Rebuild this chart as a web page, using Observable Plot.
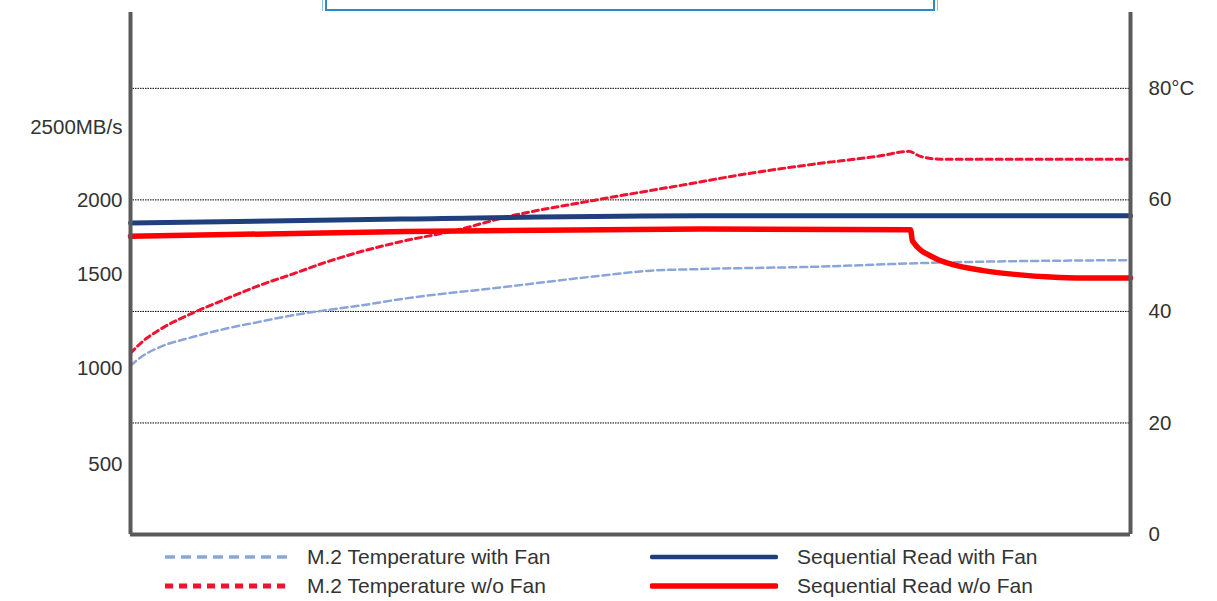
<!DOCTYPE html>
<html>
<head>
<meta charset="utf-8">
<script src="https://cdn.jsdelivr.net/npm/d3@7"></script>
<script src="https://cdn.jsdelivr.net/npm/@observablehq/plot@0.6"></script>
<style>
  html, body { margin: 0; padding: 0; background: #fff; }
  #wrap { position: relative; width: 1217px; height: 601px; overflow: hidden; font-family: "Liberation Sans", Arial, sans-serif; color: #333; }
  #topbox { position: absolute; left: 322px; top: -10px; width: 616px; height: 21px; border-left: 1px solid #8cc0ea; border-right: 1px solid #8cc0ea; box-sizing: border-box; }
  #topbox div { position: absolute; left: 2px; right: 2px; top: 0; bottom: 0; border: 2px solid #2f88cc; border-top: none; }
  .leg { position: absolute; display: flex; align-items: center; font-size: 21px; white-space: nowrap; }
  .leg svg { display: block; }
</style>
</head>
<body>
<div id="wrap">
  <div id="chart"></div>
  <div id="topbox"><div></div></div>
  <div id="legend"></div>
</div>
<script>
// ---- data (x: elapsed test time, 0..100; temperatures in °C; read speeds in MB/s) ----
const tempTicks = [0, 20, 40, 60, 80];
const tempLabels = ["0", "20", "40", "60", "80°C"];
const mbTicks = [500, 1000, 1500, 2000, 2500];
const mbLabels = ["500", "1000", "1500", "2000", "2500MB/s"];
const mbTickAtTemp = [12.5, 29.8, 46.6, 59.9, 73.0];

const tempFanT   = [0, 1.2, 2.8, 6.2, 9.5, 12.8, 16.2, 19.5, 22.8, 27, 37, 47, 52, 57, 68.3, 79.7, 100];
const tempFanV   = [30.3, 32.0, 33.5, 35.4, 36.9, 38.1, 39.3, 40.2, 41.0, 42.2, 44.3, 46.4, 47.3, 47.6, 48.0, 48.7, 49.2];

const tempNoFanT = [0, 1.2, 2.8, 6.2, 9.5, 12.8, 16.2, 19.5, 22.8, 27, 32.7, 37.3, 46.3, 55, 61.7, 68.3, 75, 77.8, 79, 81, 100];
const tempNoFanV = [32.5, 34.6, 36.6, 39.7, 42.2, 44.6, 46.7, 48.8, 50.6, 52.5, 54.6, 56.8, 59.9, 62.6, 64.7, 66.4, 67.9, 68.7, 67.8, 67.3, 67.3];

const readFanT   = [0, 27, 57, 100];
const readFanV   = [1848, 1875, 1897, 1897];

const readNoFanT = [0, 27.5, 57, 78.0, 78.2, 80.3, 82, 85.3, 88.7, 92, 95.3, 100];
const readNoFanV = [1758, 1791, 1808, 1803, 1727, 1616, 1572, 1527, 1500, 1487, 1482, 1482];

const seriesNames = ["M.2 Temperature with Fan", "M.2 Temperature w/o Fan", "Sequential Read with Fan", "Sequential Read w/o Fan"];

// ---- mapping MB/s onto the shared vertical scale ----
const mbToTemp = d3.scaleLinear().domain(mbTicks).range(mbTickAtTemp);

const rows = (ts, vs, conv = v => v) => ts.map((t, i) => ({t, v: conv(vs[i])}));
const tempFan = rows(tempFanT, tempFanV);
const tempNoFan = rows(tempNoFanT, tempNoFanV);
const readFan = rows(readFanT, readFanV, mbToTemp);
const readNoFan = rows(readNoFanT, readNoFanV, mbToTemp);

const C = {
  lightBlue: "#8aa6d9",
  redDot: "#f0122e",
  navy: "#1f3f7d",
  red: "#ff0000",
  axis: "#5a5a5a"
};

const chart = Plot.plot({
  width: 1217,
  height: 545,
  marginLeft: 130,
  marginRight: 87,
  marginTop: 12,
  marginBottom: 11,
  x: {domain: [0, 100], axis: null},
  y: {domain: [0, 93.6], axis: null},
  style: {fontFamily: '"Liberation Sans", Arial, sans-serif', fontSize: "20.5px", color: "#333", background: "transparent", overflow: "visible"},
  marks: [
    Plot.ruleY(tempTicks.filter(d => d > 0), {stroke: "#000", strokeWidth: 1, strokeDasharray: "1.5,1"}),
    Plot.line(tempFan, {x: "t", y: "v", stroke: C.lightBlue, strokeWidth: 2.5, strokeDasharray: "7,4", curve: "monotone-x"}),
    Plot.line(tempNoFan, {x: "t", y: "v", stroke: C.redDot, strokeWidth: 3, strokeDasharray: "6,4", curve: "monotone-x"}),
    Plot.line(readFan, {x: "t", y: "v", stroke: C.navy, strokeWidth: 5, curve: "monotone-x"}),
    Plot.line(readNoFan, {x: "t", y: "v", stroke: C.red, strokeWidth: 5.5, curve: "monotone-x"}),
    Plot.ruleX([0, 100], {stroke: C.axis, strokeWidth: 4}),
    Plot.ruleY([0], {stroke: C.axis, strokeWidth: 4, x1: 0, x2: 100}),
    Plot.text(mbTicks, {frameAnchor: "left", y: d => mbToTemp(d), text: (d, i) => mbLabels[i], textAnchor: "end", dx: -8, fill: "#333", fontSize: 20.5}),
    Plot.text(tempTicks, {frameAnchor: "right", y: d => d, text: (d, i) => tempLabels[i], textAnchor: "start", dx: 18, fill: "#333", fontSize: 20.5})
  ]
});
document.getElementById("chart").appendChild(chart);

// ---- legend ----
const legendItems = [
  {name: seriesNames[0], color: C.lightBlue, width: 3.5, dash: "10,6", cap: "butt", left: 163, top: 557},
  {name: seriesNames[1], color: C.redDot, width: 5, dash: "8,6", cap: "butt", left: 163, top: 586},
  {name: seriesNames[2], color: C.navy, width: 4.5, dash: null, cap: "round", left: 650, top: 557},
  {name: seriesNames[3], color: C.red, width: 5.5, dash: null, cap: "round", left: 650, top: 586}
];
const legend = document.getElementById("legend");
for (const it of legendItems) {
  const div = document.createElement("div");
  div.className = "leg";
  div.style.left = it.left + "px";
  div.style.top = (it.top - 13) + "px";
  div.style.height = "26px";
  div.innerHTML = `<svg width="128" height="10"><line x1="2" x2="126" y1="5" y2="5" stroke="${it.color}" stroke-width="${it.width}" stroke-linecap="${it.cap}" ${it.dash ? `stroke-dasharray="${it.dash}"` : ""}/></svg><span style="margin-left:${it.dash ? 16 : 19}px">${it.name}</span>`;
  legend.appendChild(div);
}
</script>
</body>
</html>
